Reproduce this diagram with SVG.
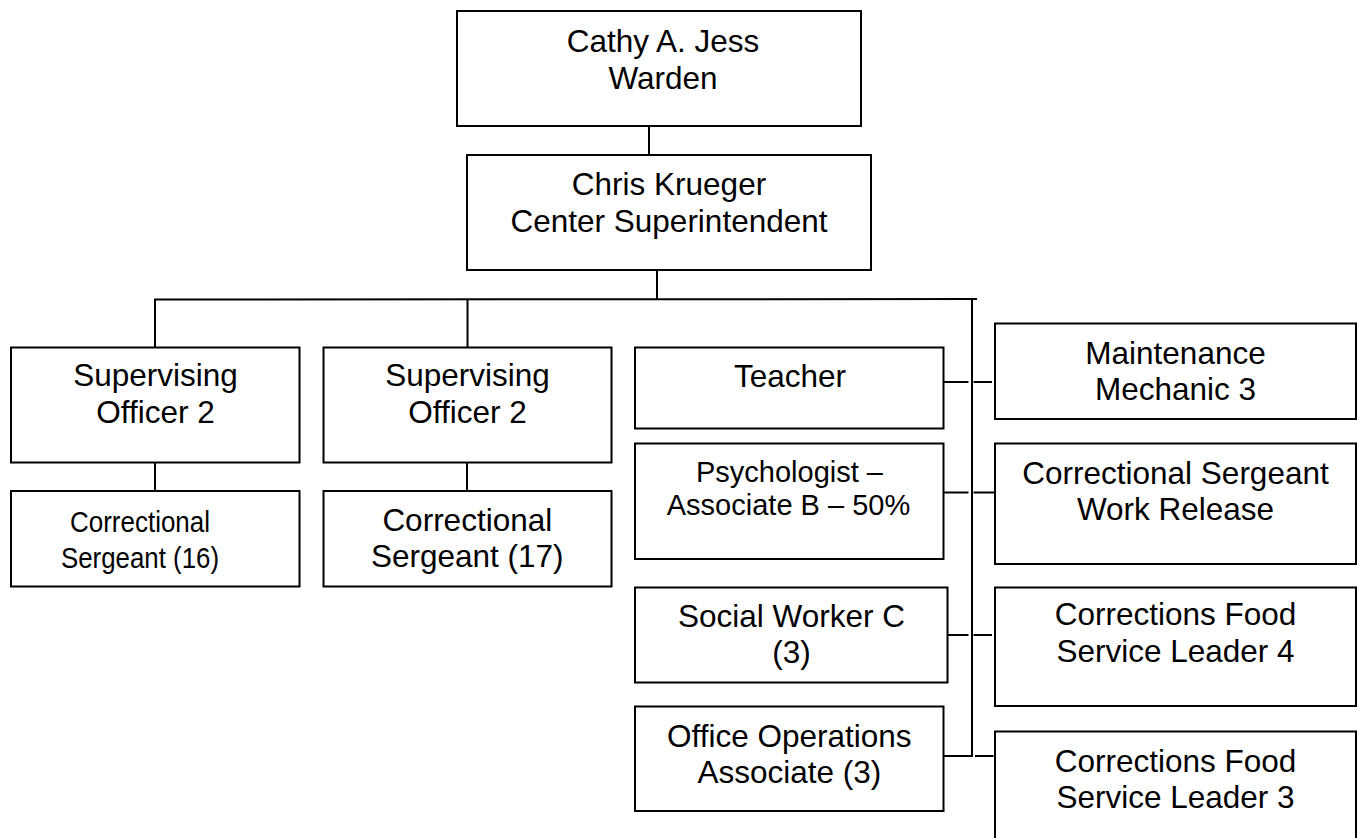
<svg xmlns="http://www.w3.org/2000/svg" width="1362" height="838" viewBox="0 0 1362 838">
<style>
.box{fill:#fff;stroke:#000;stroke-width:2}
.ln{stroke:#000;stroke-width:2;fill:none}
text{font-family:"Liberation Sans",Arial,sans-serif;font-size:31.5px;fill:#000;text-anchor:middle}
.sm{font-size:29px}
.nar{font-size:30px}
</style>
<rect width="1362" height="838" fill="#fff"/>
<g id="connectors">
<line class="ln" x1="649" y1="121" x2="649" y2="159"/>
<line class="ln" x1="657" y1="270" x2="657" y2="300"/>
<line class="ln" x1="154" y1="299.5" x2="977" y2="299"/>
<line class="ln" x1="155" y1="299" x2="155" y2="347"/>
<line class="ln" x1="467.5" y1="299" x2="467.5" y2="347"/>
<line class="ln" x1="155" y1="458" x2="155" y2="491"/>
<line class="ln" x1="467" y1="461" x2="467" y2="491"/>
<line class="ln" x1="972" y1="299" x2="972" y2="756.5"/>
<line class="ln" x1="943" y1="382" x2="968.5" y2="382"/>
<line class="ln" x1="973.5" y1="382" x2="992" y2="382"/>
<line class="ln" x1="943" y1="492.5" x2="968.5" y2="492.5"/>
<line class="ln" x1="973.5" y1="492.5" x2="995" y2="492.5"/>
<line class="ln" x1="947.5" y1="635" x2="968.5" y2="635"/>
<line class="ln" x1="973.5" y1="635" x2="992" y2="635"/>
<line class="ln" x1="941" y1="756" x2="973" y2="756"/>
<line class="ln" x1="975" y1="756" x2="993.5" y2="756"/>
</g>
<g id="warden">
<rect class="box" x="457" y="11" width="404" height="115"/>
<text x="663" y="52">Cathy A. Jess</text>
<text x="663" y="88.5">Warden</text>
</g>
<g id="superintendent">
<rect class="box" x="467" y="155" width="404" height="115"/>
<text x="669" y="195">Chris Krueger</text>
<text x="669" y="231.5">Center Superintendent</text>
</g>
<g id="supervising1">
<rect class="box" x="11" y="347.5" width="288.5" height="115"/>
<text x="155.5" y="386">Supervising</text>
<text x="155.5" y="423">Officer 2</text>
</g>
<g id="supervising2">
<rect class="box" x="323.5" y="347.5" width="288" height="115"/>
<text x="467.5" y="386">Supervising</text>
<text x="467.5" y="423">Officer 2</text>
</g>
<g id="sergeant16">
<rect class="box" x="11" y="491" width="288.5" height="95.5"/>
<text class="nar" x="140" y="531.5" textLength="140" lengthAdjust="spacingAndGlyphs">Correctional</text>
<text class="nar" x="140" y="567.5" textLength="158" lengthAdjust="spacingAndGlyphs">Sergeant (16)</text>
</g>
<g id="sergeant17">
<rect class="box" x="323.5" y="491" width="288" height="95.5"/>
<text x="467.3" y="531">Correctional</text>
<text x="467.3" y="566.5">Sergeant (17)</text>
</g>
<g id="teacher">
<rect class="box" x="635" y="347.5" width="308.5" height="81"/>
<text x="790" y="386.5">Teacher</text>
</g>
<g id="psychologist">
<rect class="box" x="635" y="443.5" width="308.5" height="115.5"/>
<text class="sm" x="789.5" y="481.5">Psychologist –</text>
<text class="sm" x="788.5" y="515">Associate B – 50%</text>
</g>
<g id="social-worker">
<rect class="box" x="635" y="587.5" width="312.5" height="95"/>
<text x="791.5" y="626.5">Social Worker C</text>
<text x="791.5" y="663">(3)</text>
</g>
<g id="office-ops">
<rect class="box" x="635" y="706.5" width="308.5" height="104.5"/>
<text x="789.3" y="746.5">Office Operations</text>
<text x="789.3" y="783">Associate (3)</text>
</g>
<g id="maintenance">
<rect class="box" x="995" y="323.5" width="361" height="95.5"/>
<text x="1175.5" y="363.5">Maintenance</text>
<text x="1175.5" y="400">Mechanic 3</text>
</g>
<g id="sergeant-work-release">
<rect class="box" x="995" y="443.5" width="361" height="120.5"/>
<text x="1175.5" y="483.5">Correctional Sergeant</text>
<text x="1175.5" y="520">Work Release</text>
</g>
<g id="food-leader4">
<rect class="box" x="995" y="587.5" width="361" height="118.5"/>
<text x="1175.5" y="625">Corrections Food</text>
<text x="1175.5" y="661.5">Service Leader 4</text>
</g>
<g id="food-leader3">
<rect class="box" x="995" y="731.5" width="361" height="120"/>
<text x="1175.5" y="771.5">Corrections Food</text>
<text x="1175.5" y="807.5">Service Leader 3</text>
</g>
</svg>
